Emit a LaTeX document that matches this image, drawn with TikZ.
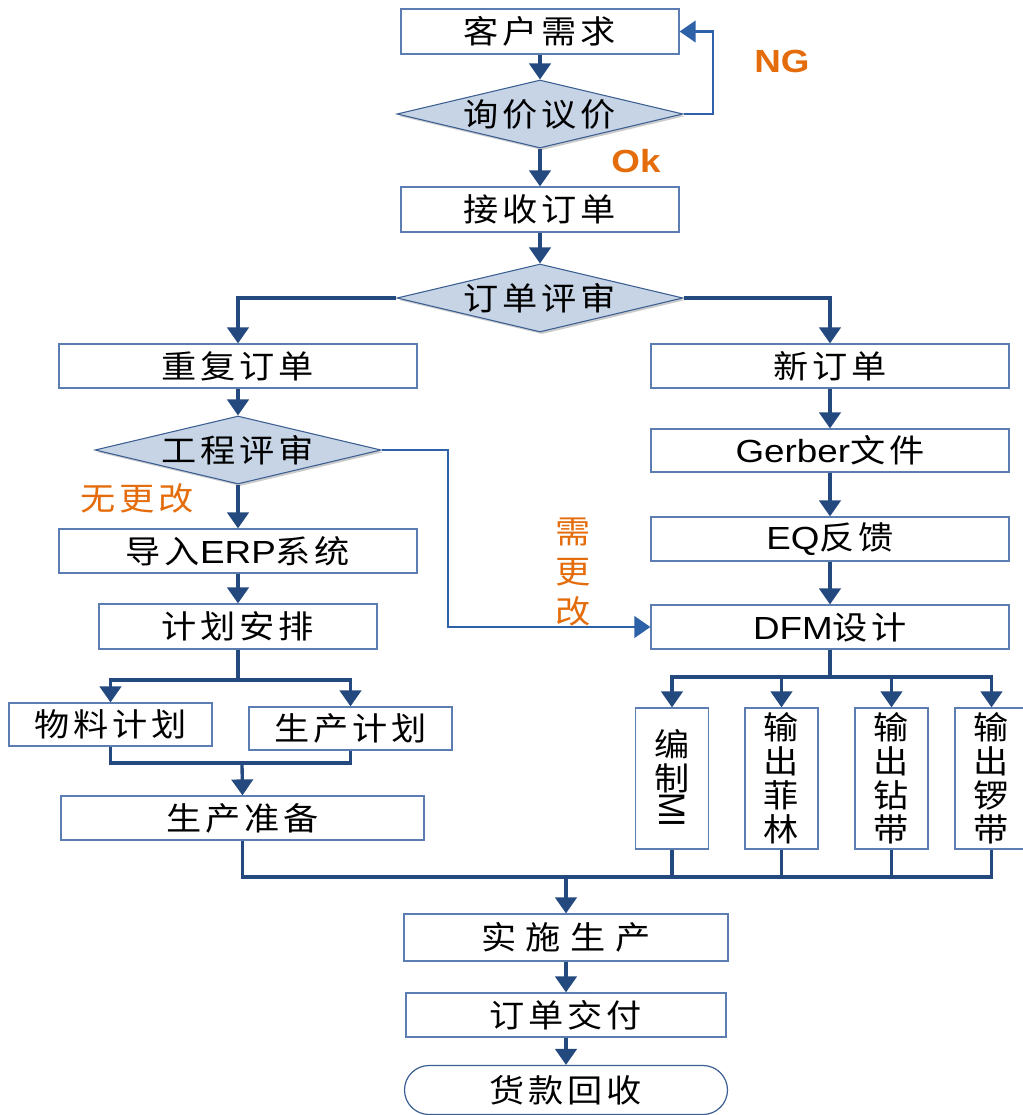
\documentclass[tikz,border=0pt]{standalone}
\usepackage{fontspec}
\setmainfont{Liberation Sans}[FakeStretch=1.15]
\newfontfamily\plainsans{Liberation Sans}
\newfontfamily\cjk[FakeStretch=1.1, LetterSpace=12]{Noto Sans CJK SC}
\newfontfamily\cjkv[FakeStretch=1.1]{Noto Sans CJK SC}
\usetikzlibrary{shapes.geometric,shapes.misc,arrows.meta,shadows}

\definecolor{boxline}{HTML}{5B7DB1}
\definecolor{dfill}{HTML}{C6D4E6}
\definecolor{dline}{HTML}{3B5E93}
\definecolor{flow}{HTML}{24497F}
\definecolor{loopc}{HTML}{2E62A8}
\definecolor{lbl}{HTML}{E46C0A}

\newcommand\arialtxt[1]{{\rmfamily #1}}
% Latin letters turned to run downwards inside a vertical box
\newcommand\downtxt[1]{\scalebox{1.15}[1]{\rotatebox{-90}{\plainsans\fontsize{24}{24}\selectfont #1}}}

\tikzset{
  txt/.style={font=\cjk\fontsize{24}{30}\selectfont, text=black},
  proc/.style 2 args={draw=boxline, line width=0.9pt, fill=white, rectangle,
    minimum width=#1*0.75pt, minimum height=#2*0.75pt, inner sep=0pt, txt},
  decision/.style 2 args={diamond, draw=dline, line width=0.8pt, fill=dfill,
    minimum width=#1*0.75pt, minimum height=#2*0.75pt, inner sep=0pt,
    drop shadow={shadow xshift=1.6pt, shadow yshift=-1.6pt, fill=black!45, opacity=0.45}},
  terminal/.style 2 args={rounded rectangle, draw=dline, line width=0.9pt, fill=white,
    minimum width=#1*0.75pt, minimum height=#2*0.75pt, inner sep=0pt, txt},
  vbox/.style={proc={73}{141}, align=center, font=\cjkv\fontsize{24}{25.5}\selectfont},
  flowline/.style={draw=flow, line width=2.5pt},
  flowarrow/.style={flowline, -{Triangle[width=16pt,length=12pt]}},
  loopline/.style={draw=loopc, line width=2.2pt},
  looparrow/.style={loopline, -{Triangle[width=16pt,length=12pt]}},
  note/.style={text=lbl, font=\bfseries\fontsize{24}{28}\selectfont},
  cnote/.style={text=lbl, font=\cjk\fontsize{24}{30}\selectfont, align=center},
}

\begin{document}
\begin{tikzpicture}[x=0.75pt, y=-0.75pt]
  \fill[white] (0,0) rectangle (1023,1115);
  \useasboundingbox (0,0) rectangle (1023,1115);

  % main trunk
  \node[proc={278}{45}] (c1) at (540,31.5) {客户需求};
  \node[decision={286}{68}, label={[txt]center:询价议价}] (d1) at (540,114) {};
  \node[proc={278}{45}] (c2) at (540,209.5) {接收订单};
  \node[decision={286}{68}, label={[txt]center:订单评审}] (d2) at (540,298) {};

  % repeat-order branch
  \node[proc={358}{44}] (r1) at (238,366) {重复订单};
  \node[decision={286}{68}, label={[txt]center:工程评审}] (d3) at (238,450) {};
  \node[proc={358}{44}] (r2) at (238,551) {导入\arialtxt{ERP}系统};
  \node[proc={278}{45}] (r3) at (238,626.5) {计划安排};
  \node[proc={203}{43}] (m1) at (110.5,724.5) {物料计划};
  \node[proc={203}{43}] (m2) at (350.5,728.5) {生产计划};
  \node[proc={363}{44}] (pp) at (242.5,818) {生产准备};

  % new-order branch
  \node[proc={358}{44}] (n1) at (830,366) {新订单};
  \node[proc={358}{43}] (n2) at (830,450.5) {\arialtxt{Gerber}文件};
  \node[proc={358}{44}] (n3) at (830,539) {\arialtxt{EQ}反馈};
  \node[proc={358}{44}] (n4) at (830,627) {\arialtxt{DFM}设计};
  \node[vbox] (v1) at (672,778.5) {编\\制\\[-24pt]\downtxt{MI}};
  \node[vbox] (v2) at (781.5,778.5) {输\\出\\菲\\林};
  \node[vbox] (v3) at (891.5,778.5) {输\\出\\钻\\带};
  \node[vbox] (v4) at (991.5,778.5) {输\\出\\锣\\带};

  % production and closing
  \node[proc={324}{47}] (ip) at (566,937.5) {实\hspace{0.3em}施\hspace{0.3em}生\hspace{0.3em}产};
  \node[proc={320}{44}] (od) at (566,1015) {订单交付};
  \node[terminal={323}{49}] (hk) at (566,1090) {货款回收};

  % junction points
  \coordinate (ngturn) at (713,31.5);
  \coordinate (rework) at (448,627);
  \coordinate (split1) at (238,680);
  \coordinate (merge1) at (242,763);
  \coordinate (split2) at (830,677);
  \coordinate (merge2) at (566,877);

  % connectors
  \draw[flowarrow] (c1.south) -- (d1.north);
  \draw[looparrow] (d1.east) -| (ngturn) -- (c1.east);
  \draw[flowarrow] (d1.south) -- (c2.north);
  \draw[flowarrow] (c2.south) -- (d2.north);
  \draw[flowarrow] (d2.west) -| (r1.north);
  \draw[flowarrow] (d2.east) -| (n1.north);

  \draw[flowarrow] (r1.south) -- (d3.north);
  \draw[flowarrow] (d3.south) -- (r2.north);
  \draw[looparrow] (d3.east) -| (rework) -- (n4.west);
  \draw[flowarrow] (r2.south) -- (r3.north);
  \draw[flowline] (r3.south) -- (split1);
  \draw[flowarrow] (split1) -| (m1.north);
  \draw[flowarrow] (split1) -| (m2.north);
  \draw[flowline] (m1.south) |- (merge1);
  \draw[flowline] (m2.south) |- (merge1);
  \draw[flowarrow] (merge1) -- (pp.north);

  \draw[flowarrow] (n1.south) -- (n2.north);
  \draw[flowarrow] (n2.south) -- (n3.north);
  \draw[flowarrow] (n3.south) -- (n4.north);
  \draw[flowline] (n4.south) -- (split2);
  \draw[flowarrow] (split2) -| (v1.north);
  \draw[flowarrow] (split2) -| (v2.north);
  \draw[flowarrow] (split2) -| (v3.north);
  \draw[flowarrow] (split2) -| (v4.north);

  \draw[flowline] (pp.south) |- (merge2);
  \draw[flowline] (v1.south) |- (merge2);
  \draw[flowline] (v2.south) |- (merge2);
  \draw[flowline] (v3.south) |- (merge2);
  \draw[flowline] (v4.south) |- (merge2);
  \draw[flowarrow] (merge2) -- (ip.north);
  \draw[flowarrow] (ip.south) -- (od.north);
  \draw[flowarrow] (od.south) -- (hk.north);

  % branch labels
  \node[note] (ng) at (782,61) {NG};
  \node[note] (ok) at (636,161) {Ok};
  \node[cnote] (nochg) at (137,498) {无更改};
  \node[cnote] (chg) at (573,572) {需\\更\\改};
\end{tikzpicture}
\end{document}
